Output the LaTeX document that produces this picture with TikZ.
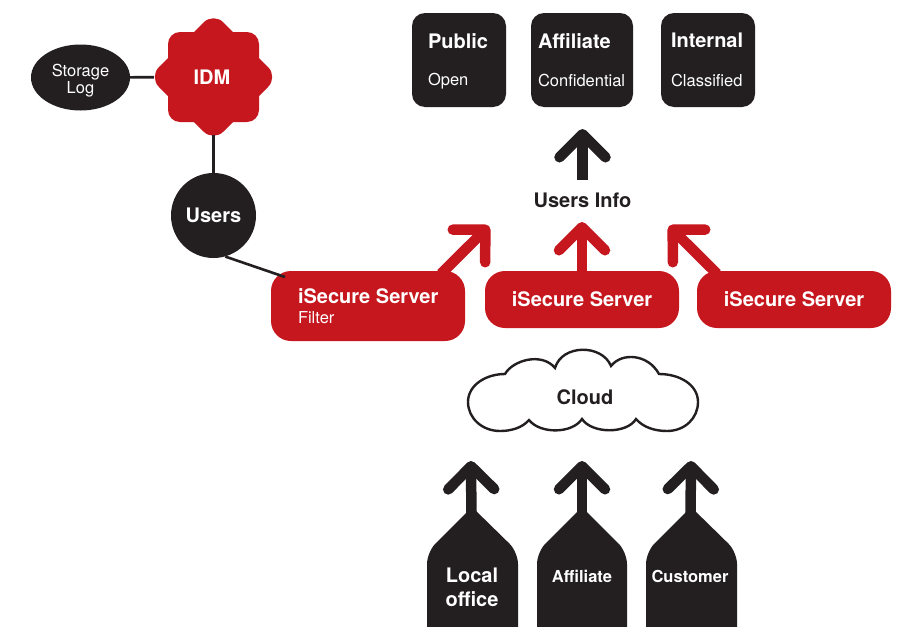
\documentclass[tikz,border=0pt]{standalone}
\usepackage{fontspec}
\setmainfont{TeX Gyre Heros}
\usetikzlibrary{arrows.meta,shapes.geometric}

\definecolor{inkblack}{HTML}{231F20}
\definecolor{inkred}{HTML}{C6171E}

\newcommand{\headtext}{\bfseries\fontsize{20}{24}\selectfont}
\newcommand{\subtext}{\fontsize{16.5}{19}\selectfont}

\tikzset{
  tier/.style={fill=inkblack,text=white,rounded corners=13pt,minimum height=94pt,align=left,inner sep=0pt},
  server/.style={fill=inkred,text=white,rounded corners=20pt,minimum width=194pt,align=center,inner sep=0pt},
  thinlink/.style={draw=inkblack,line width=2.6pt},
  blackarrow/.style={draw=inkblack,line width=10.5pt,-{Straight Barb[length=23pt,width=46pt,round]}},
  redarrow/.style={draw=inkred,line width=10.5pt,-{Straight Barb[length=23pt,width=46pt,round]}},
}

\begin{document}
\begin{tikzpicture}[x=1pt,y=-1pt]
\clip (0,0) rectangle (903,627);
\fill[white] (0,0) rectangle (903,627);

\fill[inkred,rounded corners=12pt] (168,32) rectangle (259,122);
\fill[inkred,rounded corners=14pt] (213.5,12.5) -- (278,77) -- (213.5,141.5) -- (149,77) -- cycle;
\node[circle,minimum size=116pt,inner sep=0pt,text=white,font=\headtext] (idm) at (212,77) {\raisebox{-3pt}{IDM}};
\node[ellipse,fill=inkblack,text=white,minimum width=99pt,minimum height=66pt,inner sep=0pt,align=center,font=\subtext] (storage) at (80.5,77.5) {\rule{0pt}{19pt}Storage\\[-2pt]Log};
\node[circle,fill=inkblack,text=white,minimum size=85pt,inner sep=0pt,font=\headtext] (users) at (213.5,215.5) {Users};
\path[thinlink] (storage) -- (idm);
\path[thinlink] (users) -- (users |- idm.south);

\node[tier,minimum width=94pt,text width=62pt] (public) at (459,60) {{\headtext Public}\\[25pt]{\subtext\smash{Open}}};
\node[tier,minimum width=102pt,text width=88pt] (affiliate) at (582,60) {{\headtext Affiliate}\\[25pt]{\subtext Confidential}};
\node[tier,minimum width=94pt,text width=74pt] (internal) at (708,60) {{\headtext Internal}\\[25pt]{\subtext Classified}};

\node[text=inkblack,font=\headtext] (usersinfo) at (582.5,200) {Users Info};
\coordinate (infotip) at (582.5,129);
\path[blackarrow,shorten <=9pt] (usersinfo) -- (infotip);

\node[server,minimum height=70pt,text width=140pt,align=left] (filter) at (368,306) {\mbox{\headtext iSecure\hspace{5.56pt}Server}\\[7pt]{\subtext Filter}};
\node[server,minimum height=57pt,font=\headtext] (server) at (582,299.5) {iSecure Server};
\node[server,minimum height=57pt,font=\headtext] (serverb) at (794,299.5) {iSecure Server};

\coordinate (filterin) at (285,277);
\path[thinlink] (users.286) -- (filterin);

\coordinate (tipleft) at (489,226);
\coordinate (tipmid) at (582,222);
\coordinate (tipright) at (669,226);
\path[redarrow] ([xshift=73pt,yshift=-3pt]filter.north) -- (tipleft);
\path[redarrow] (server) -- (tipmid);
\path[redarrow] ([xshift=-77pt,yshift=-3pt]serverb.north) -- (tipright);

\draw[inkblack,fill=white,line width=2.4pt] (505,374) .. controls (513,360) and (542,352) .. (555,368)
  .. controls (562,344) and (602,344) .. (611,366)
  .. controls (622,352) and (648,354) .. (659,374)
  .. controls (680,374) and (698,385) .. (698,402)
  .. controls (698,418) and (685,431) .. (667,431)
  .. controls (654,431) and (643,427) .. (636,419)
  .. controls (627,434) and (592,434) .. (582,419)
  .. controls (572,434) and (540,434) .. (529,420)
  .. controls (522,428) and (511,431) .. (500,431)
  .. controls (482,431) and (468,418) .. (468,402)
  .. controls (468,385) and (486,374) .. (505,374) -- cycle;
\node[text=inkblack,font=\headtext] (cloud) at (585,397) {Cloud};

\fill[inkblack,rounded corners=12pt] (427,640) -- (427,552) [sharp corners] -- (472,507) [rounded corners=12pt] -- (518,552) -- (518,640) -- cycle;
\fill[inkblack,rounded corners=12pt] (537,640) -- (537,552) [sharp corners] -- (582,507) [rounded corners=12pt] -- (627,552) -- (627,640) -- cycle;
\fill[inkblack,rounded corners=12pt] (646,640) -- (646,552) [sharp corners] -- (691,507) [rounded corners=12pt] -- (737,552) -- (737,640) -- cycle;

\node[text=white,align=center,font=\headtext] (local) at (472,587) {Local\\office};
\node[text=white,font=\bfseries\subtext] (partner) at (582,576) {Affiliate};
\node[text=white,font=\bfseries\subtext] (customer) at (690,576) {Customer};

\coordinate (localtip) at (471,461);
\coordinate (partnertip) at (582,461);
\coordinate (customertip) at (691,461);
\path[blackarrow] (local) -- (localtip);
\path[blackarrow] (partner) -- (partnertip);
\path[blackarrow] (customer) -- (customertip);
\end{tikzpicture}
\end{document}
